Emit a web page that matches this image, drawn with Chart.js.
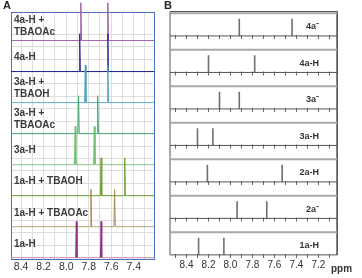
<!DOCTYPE html>
<html>
<head>
<meta charset="utf-8">
<script src="https://cdn.jsdelivr.net/npm/chart.js@4"></script>
<style>
  html, body { margin: 0; padding: 0; background: #fff; }
  body { width: 362px; height: 278px; position: relative; overflow: hidden; font-family: 'Liberation Sans', Arial, sans-serif; }
  .panel-letter { position: absolute; top: -1px; font-weight: bold; font-size: 11px; color: #222; }
  #wrapA { position: absolute; left: 0; top: 0; width: 160px; height: 278px; }
  #wrapB { position: absolute; left: 160px; top: 0; width: 202px; height: 278px; }
</style>
</head>
<body>
<div id="wrapA"><canvas id="chartA"></canvas></div>
<div id="wrapB"><canvas id="chartB"></canvas></div>
<span class="panel-letter" style="left:3px">A</span>
<span class="panel-letter" style="left:164px">B</span>
<script>
// ---- panel A: measured 1H NMR traces, bottom to top ----
const A_LABELS = ['1a-H', '1a-H + TBAOAc', '1a-H + TBAOH', '3a-H',
    ['3a-H +', 'TBAOAc'], ['3a-H +', 'TBAOH'], '4a-H', ['4a-H +', 'TBAOAc']];
const A_PEAK1 = [7.91, 7.78, 7.69, 7.92, 7.89, 7.83, 7.88, 7.87];
const A_PEAK2 = [7.69, 7.57, 7.48, 7.75, 7.72, 7.63, 7.63, 7.63];
const A_HEIGHT = [1.17, 1.2, 1.22, 1.23, 1.22, 1.2, 1.22, 1.22];
const A_COLORS = ['#c98a9c', '#bca078', '#6f9e30', '#86c886', '#3fa870', '#62aec4', '#1c1c8e', '#a066ae'];
const A_PEAK_COLORS = ['#8e2f8a', '#a88650', '#6f9e30', '#6cbc70', '#3fa870', '#4aa0bc', '#2a2aa0', '#a25aa8'];
const A_TICKS = [8.4, 8.2, 8.0, 7.8, 7.6, 7.4];
const A_GRID_X = [8.4, 8.3, 8.2, 8.1, 8.0, 7.9, 7.8, 7.7, 7.6, 7.5, 7.4, 7.3];

// ---- panel B: calculated shifts (stick spectra), bottom to top ----
const B_LABELS = ['1a-H', '2a\u207B', '2a-H', '3a-H', '3a\u207B', '4a-H', '4a\u207B'];
const B_PEAK1 = [8.29, 7.94, 8.21, 8.30, 8.10, 8.20, 7.92];
const B_PEAK2 = [8.06, 7.67, 7.53, 8.16, 7.92, 7.78, 7.44];
const B_TICKS = [8.4, 8.2, 8.0, 7.8, 7.6, 7.4, 7.2];
const B_MINOR = [8.5, 8.4, 8.3, 8.2, 8.1, 8.0, 7.9, 7.8, 7.7, 7.6, 7.5, 7.4, 7.3, 7.2, 7.1];

Chart.defaults.font.family = "'Liberation Sans', Arial, sans-serif";
Chart.defaults.animation = false;

const blue = '#4a72c0';
const gridGray = '#dedede';
const noEdgePad = s => { s.paddingLeft = 0; s.paddingRight = 0; s.paddingTop = 0; s.paddingBottom = 0; };

// A: axis limits
const A_MIN = 7.22, A_MAX = 8.49, A_YMIN = -0.05, A_YMAX = 7.92;
const HALF = 0.006;

function trace(i) {
    const b = i, h = A_HEIGHT[i];
    const p1 = A_PEAK1[i], p2 = A_PEAK2[i];
    return [
        {x: A_MAX, y: b},
        {x: p1 + HALF, y: b}, {x: p1, y: b + h}, {x: p1 - HALF, y: b},
        {x: p2 + HALF, y: b}, {x: p2, y: b + h}, {x: p2 - HALF, y: b},
        {x: A_MIN, y: b}
    ];
}

const frameAxis = pos => ({
    type: 'linear', position: pos, display: true,
    ticks: {display: false},
    grid: {display: false, drawTicks: false},
    border: {color: blue, width: 1},
    afterFit: noEdgePad
});

new Chart(document.getElementById('chartA'), {
    type: 'scatter',
    data: {
        datasets: A_LABELS.map((name, i) => ({
            label: Array.isArray(name) ? name.join(' ') : name,
            data: trace(i),
            showLine: true,
            borderColor: A_COLORS[i],
            segment: {
                // the rising and falling flanks of a peak get the peak colour
                borderColor: c => (c.p0.parsed.y > i + 0.01 || c.p1.parsed.y > i + 0.01) ? A_PEAK_COLORS[i] : A_COLORS[i]
            },
            borderWidth: 1,
            pointRadius: 0,
            clip: false
        }))
    },
    options: {
        responsive: true,
        maintainAspectRatio: false,
        layout: {padding: {top: 12, left: 5, right: 6, bottom: 2.7}},
        plugins: {legend: {display: false}, tooltip: {enabled: false}},
        scales: {
            x: {
                type: 'linear', reverse: true, min: A_MIN, max: A_MAX,
                afterBuildTicks: s => { s.ticks = A_GRID_X.map(v => ({value: v})); },
                afterFit: noEdgePad,
                ticks: {
                    callback: v => A_TICKS.some(t => Math.abs(t - v) < 1e-6) ? v.toFixed(1) : '',
                    font: {size: 10.5}, color: '#333', padding: 1.7,
                    autoSkip: false, maxRotation: 0
                },
                grid: {color: gridGray, drawTicks: false},
                border: {color: blue}
            },
            xTop: Object.assign(frameAxis('top'), {min: A_MIN, max: A_MAX, reverse: true}),
            y: {
                min: A_YMIN, max: A_YMAX,
                ticks: {display: false, stepSize: 0.4},
                grid: {color: gridGray, drawTicks: false},
                border: {color: blue},
                afterFit: noEdgePad
            },
            yLab: {
                type: 'linear', position: 'left', min: A_YMIN, max: A_YMAX,
                afterBuildTicks: s => { s.ticks = A_LABELS.map((n, i) => ({value: i + 0.45})); },
                afterFit: noEdgePad,
                ticks: {
                    mirror: true, padding: 3, autoSkip: false,
                    callback: (v, i) => A_LABELS[i],
                    font: {size: 10, weight: 'bold'}, color: '#3a3a3a'
                },
                grid: {display: false, drawTicks: false},
                border: {display: false}
            },
            yRight: Object.assign(frameAxis('right'), {min: A_YMIN, max: A_YMAX})
        }
    }
});

// B: axis limits and row geometry (in row units)
const B_MIN = 7.086, B_MAX = 8.55, FRAME_R = 7.03;
const B_YMIN = -0.03, B_YMAX = 6.67;
const ROW_TOP = 0.62, STICK = 0.47;

const bSets = [];
B_LABELS.forEach((name, r) => {
    bSets.push({
        data: [{x: B_MAX, y: r + ROW_TOP}, {x: FRAME_R, y: r + ROW_TOP}],
        borderColor: '#a8a8a8', borderWidth: 2
    });
    bSets.push({
        data: [{x: B_MAX, y: r}, {x: FRAME_R, y: r}],
        borderColor: '#555', borderWidth: 1
    });
    bSets.push({
        label: name,
        data: [{x: B_PEAK1[r], y: r}, {x: B_PEAK1[r], y: r + STICK}, {x: B_PEAK1[r], y: null},
               {x: B_PEAK2[r], y: r}, {x: B_PEAK2[r], y: r + STICK}],
        borderColor: '#707070', borderWidth: 1.6, spanGaps: false
    });
});
// outer frame
bSets.push({
    data: [{x: B_MAX, y: 0}, {x: B_MAX, y: B_YMAX}, {x: FRAME_R, y: B_YMAX}, {x: FRAME_R, y: 0}],
    borderColor: '#555', borderWidth: 1
});
// minor tick marks on every row baseline
const tickPts = [];
B_LABELS.forEach((n, r) => B_MINOR.forEach(t => tickPts.push({x: t, y: r - 0.03})));
bSets.push({
    data: tickPts, showLine: false,
    pointStyle: 'line', rotation: 90, pointRadius: 2,
    pointBorderColor: '#666', pointBorderWidth: 1
});
bSets.forEach(d => {
    if (d.showLine === undefined) d.showLine = true;
    if (d.pointRadius === undefined) d.pointRadius = 0;
    d.clip = false;
});

new Chart(document.getElementById('chartB'), {
    type: 'scatter',
    data: {datasets: bSets},
    options: {
        responsive: true,
        maintainAspectRatio: false,
        layout: {padding: {top: 11.5, left: 10, right: 31, bottom: 3}},
        plugins: {legend: {display: false}, tooltip: {enabled: false}},
        scales: {
            x: {
                type: 'linear', reverse: true, min: B_MIN, max: B_MAX,
                afterBuildTicks: s => { s.ticks = B_TICKS.map(v => ({value: v})); },
                afterFit: noEdgePad,
                ticks: {
                    callback: v => v.toFixed(1),
                    font: {size: 10}, color: '#333', padding: 3.5,
                    autoSkip: false, maxRotation: 0
                },
                grid: {display: false, drawTicks: false},
                border: {display: false},
                title: {
                    display: true, text: 'ppm', align: 'end',
                    font: {size: 10, weight: 'bold'}, color: '#333',
                    padding: {top: -12, bottom: 0}
                }
            },
            y: {
                display: false, min: B_YMIN, max: B_YMAX
            },
            yLab: {
                type: 'linear', position: 'right', min: B_YMIN, max: B_YMAX,
                afterBuildTicks: s => { s.ticks = B_LABELS.map((n, i) => ({value: i + 0.25})); },
                afterFit: noEdgePad,
                ticks: {
                    mirror: true, padding: -12, autoSkip: false,
                    callback: (v, i) => B_LABELS[i],
                    font: {size: 9, weight: 'bold'}, color: '#333'
                },
                grid: {display: false, drawTicks: false},
                border: {display: false}
            }
        }
    }
});
</script>
</body>
</html>
